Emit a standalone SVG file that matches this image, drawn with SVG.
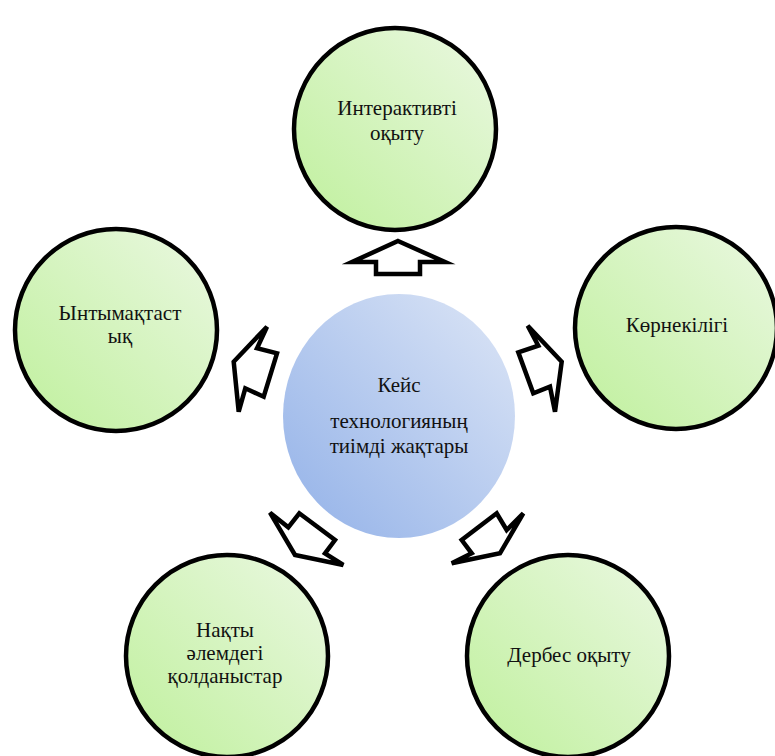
<svg xmlns="http://www.w3.org/2000/svg" width="775" height="756" viewBox="0 0 775 756">
<defs>
<linearGradient id="gGreen" x1="0" y1="1" x2="1" y2="0">
<stop offset="0" stop-color="#bff09c"/>
<stop offset="1" stop-color="#ebf8e2"/>
</linearGradient>
<linearGradient id="gBlue" x1="0" y1="1" x2="1" y2="0">
<stop offset="0" stop-color="#92b1e8"/>
<stop offset="1" stop-color="#dde6f6"/>
</linearGradient>
<style>
.sat{fill:url(#gGreen);stroke:#000;stroke-width:4.5}
.hub{fill:url(#gBlue)}
.arr{fill:#fff;stroke:#000;stroke-width:4.5;stroke-linejoin:miter;stroke-miterlimit:5}
.c{font-size:21px}
</style>
</defs>
<rect width="775" height="756" fill="#fff"/>
<g id="connectors">
<polygon class="arr" points="398,241 445,262 420,262 420,274 376,274 376,262 352,262"/>
<polygon class="arr" points="527.7,325.7 561.7,361.7 555,411.7 550,386.7 533.3,393.3 518.3,352.3 538.3,345.7"/>
<polygon class="arr" points="267,326.7 257,348.3 277,353.3 263.7,396.7 245.3,388.3 238.7,411.7 233.7,361.7"/>
<polygon class="arr" points="270,512.7 288.3,527.3 299.3,513.3 335,540 325,553.3 343.3,565 295,555"/>
<polygon class="arr" points="523.3,513.3 506.7,530 496.7,513.3 461.7,540 471.7,553.3 451.7,563.3 500,553.3"/>
</g>
<g font-family="Liberation Serif, Times New Roman, DejaVu Serif, serif" font-size="21" fill="#111" text-anchor="middle">
<g id="hub">
<ellipse class="hub" cx="399" cy="416" rx="116" ry="122"/>
<text class="c" x="399" y="392">Кейс</text>
<text class="c" x="399" y="428">технологияның</text>
<text class="c" x="399" y="453">тиімді жақтары</text>
</g>
<g id="n-top">
<circle class="sat" cx="395" cy="129" r="101"/>
<text x="397" y="115">Интерактивті</text>
<text x="397" y="140">оқыту</text>
</g>
<g id="n-right">
<circle class="sat" cx="676" cy="328" r="101"/>
<text x="677" y="332">Көрнекілігі</text>
</g>
<g id="n-bottom-right">
<circle class="sat" cx="568" cy="656" r="101"/>
<text x="569" y="662">Дербес оқыту</text>
</g>
<g id="n-bottom-left">
<circle class="sat" cx="227" cy="656" r="101"/>
<text x="225" y="637">Нақты</text>
<text x="225" y="660">әлемдегі</text>
<text x="225" y="683">қолданыстар</text>
</g>
<g id="n-left">
<circle class="sat" cx="116" cy="330" r="101"/>
<text x="120" y="320">Ынтымақтаст</text>
<text x="120" y="343">ық</text>
</g>
</g>
</svg>
